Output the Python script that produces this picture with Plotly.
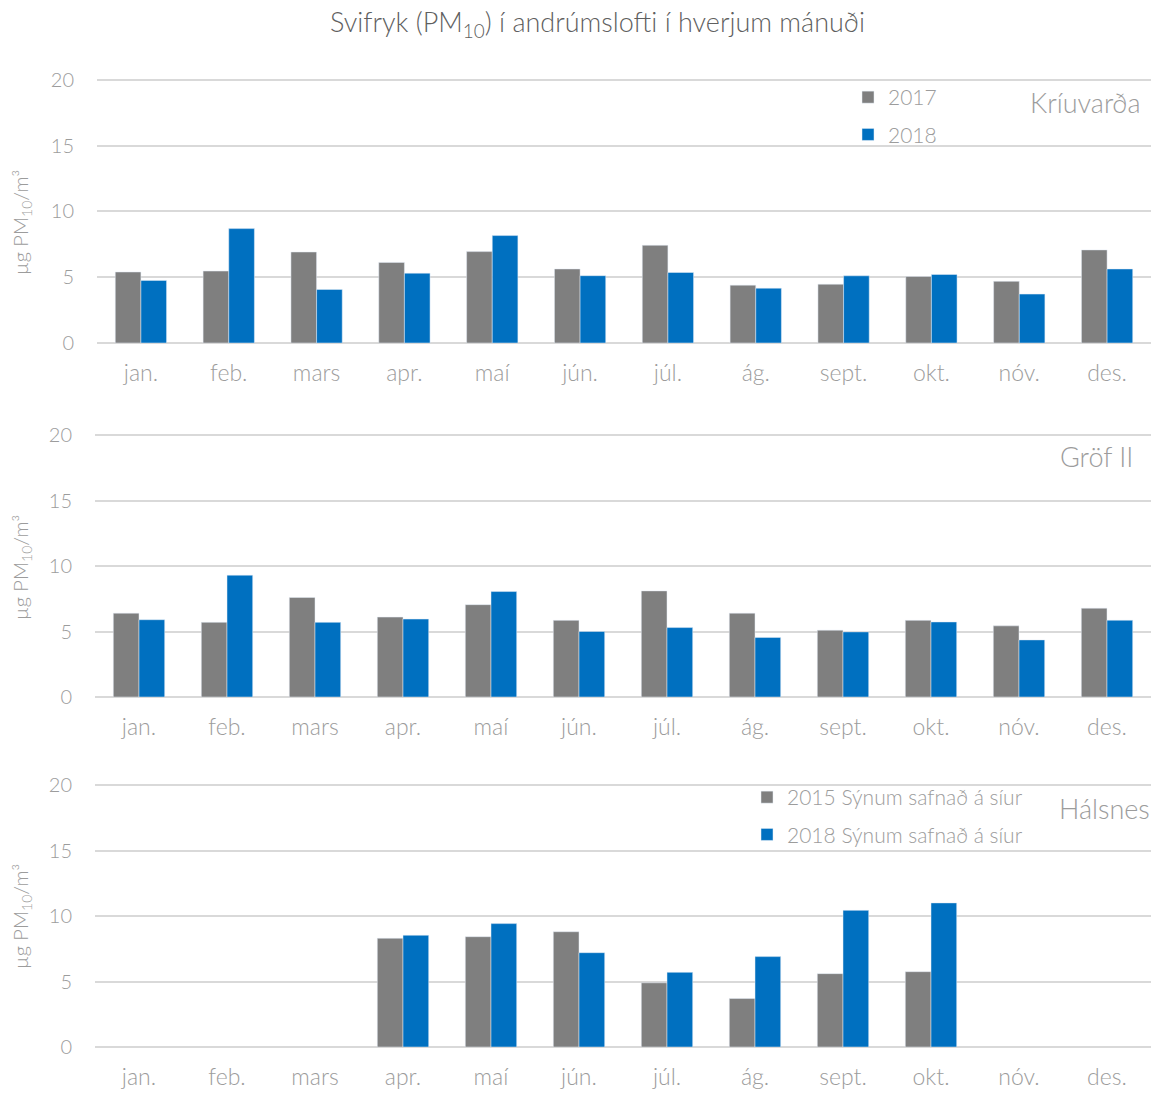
import plotly.graph_objects as go

months = ["jan.", "feb.", "mars", "apr.", "maí", "jún.", "júl.", "ág.", "sept.", "okt.", "nóv.", "des."]

kriu_2017 = [5.4, 5.47, 6.92, 6.13, 6.95, 5.63, 7.43, 4.4, 4.47, 5.06, 4.69, 7.08]
kriu_2018 = [4.76, 8.7, 4.07, 5.31, 8.17, 5.12, 5.36, 4.17, 5.11, 5.21, 3.72, 5.63]
grof_2017 = [6.4, 5.7, 7.6, 6.1, 7.05, 5.85, 8.1, 6.4, 5.1, 5.85, 5.43, 6.78]
grof_2018 = [5.9, 9.3, 5.7, 5.95, 8.05, 5.0, 5.3, 4.55, 4.97, 5.73, 4.36, 5.86]
hals_2015 = [None, None, None, 8.3, 8.42, 8.8, 4.9, 3.7, 5.6, 5.75, None, None]
hals_2018 = [None, None, None, 8.53, 9.42, 7.2, 5.7, 6.9, 10.43, 11.0, None, None]

GREY = "#7f7f7f"
BLUE = "#0070c0"
FONT = "Lato"
WT = 300
LBL = "#9c9c9c"
OFF = 8  # page body margin
W, H = 1159 - OFF, 1093 - OFF


def px(x):
    return (x - OFF) / W


def py(y):
    return 1 - (y - OFF) / H


def f(size, color=LBL):
    return dict(family=FONT, size=size, color=color, weight=WT)


fig = go.Figure()


def add_pair(a, b, names, xa, ya, legend, show):
    fig.add_trace(go.Bar(x=months, y=a, name=names[0], marker_color=GREY, xaxis=xa, yaxis=ya,
                         legend=legend, showlegend=show, legendgroup=legend + "a"))
    fig.add_trace(go.Bar(x=months, y=b, name=names[1], marker_color=BLUE, xaxis=xa, yaxis=ya,
                         legend=legend, showlegend=show, legendgroup=legend + "b"))


add_pair(kriu_2017, kriu_2018, ["2017", "2018"], "x", "y", "legend", True)
add_pair(grof_2017, grof_2018, ["2017", "2018"], "x2", "y2", "legend", False)
add_pair(hals_2015, hals_2018, ["2015 Sýnum safnað á síur", "2018 Sýnum safnað á síur"], "x3", "y3", "legend2", True)

panels = [  # (x left px, x right px, y top px, y bottom px, y-title centre px)
    (97, 1151, 80, 343, 223),
    (95, 1151, 435, 697, 568),
    (95, 1151, 785, 1047, 917),
]
YMAX = 20.1
ytitle = "µg PM<sub>10</sub>/m³"
for i, (xl, xr, yt, yb, yc) in enumerate(panels):
    sfx = "" if i == 0 else str(i + 1)
    ytop = yb - (yb - yt) * YMAX / 20
    fig.layout["xaxis" + sfx] = dict(
        domain=[px(xl), px(xr)], anchor="y" + sfx, showgrid=False, showline=False, zeroline=False,
        ticks="", tickfont=f(23), ticklabelstandoff=14, fixedrange=True)
    fig.layout["yaxis" + sfx] = dict(
        domain=[py(yb), py(ytop)], anchor="x" + sfx, range=[0, YMAX], tickvals=[0, 5, 10, 15, 20],
        showgrid=True, gridcolor="#d9d9d9", gridwidth=1.6, zeroline=True, zerolinecolor="#d9d9d9",
        zerolinewidth=1.6, showline=False, ticks="", tickfont=f(20), ticklabelstandoff=22)
    fig.add_annotation(text=ytitle, xref="paper", yref="paper", x=px(21), y=py(yc),
                       xanchor="center", yanchor="middle", textangle=-90, showarrow=False,
                       font=f(20))

fig.update_layout(
    width=W, height=H, margin=dict(l=0, r=0, t=0, b=0, autoexpand=False),
    plot_bgcolor="white", paper_bgcolor="white",
    barmode="group", bargap=0.416, bargroupgap=0,
    title=dict(text="Svifryk (PM<sub>10</sub>) í andrúmslofti í hverjum mánuði",
               font=f(27, "#5f5f5f"),
               x=px(597.5), xanchor="center", y=py(23), yanchor="middle"),
    legend=dict(x=px(848), y=py(77), xanchor="left", yanchor="top", orientation="v",
                font=f(21), tracegroupgap=7, bgcolor="rgba(0,0,0,0)"),
    legend2=dict(x=px(747), y=py(777), xanchor="left", yanchor="top", orientation="v",
                 font=f(21), tracegroupgap=7, bgcolor="rgba(0,0,0,0)"),
)

labels = [("Kríuvarða", 1143, 103), ("Gröf II", 1135, 457), ("Hálsnes", 1152, 808)]
for txt, xr, yc in labels:
    fig.add_annotation(text=txt, xref="paper", yref="paper", x=px(xr), y=py(yc),
                       xanchor="right", yanchor="middle", showarrow=False, font=f(27))

fig.write_html("out.html")
